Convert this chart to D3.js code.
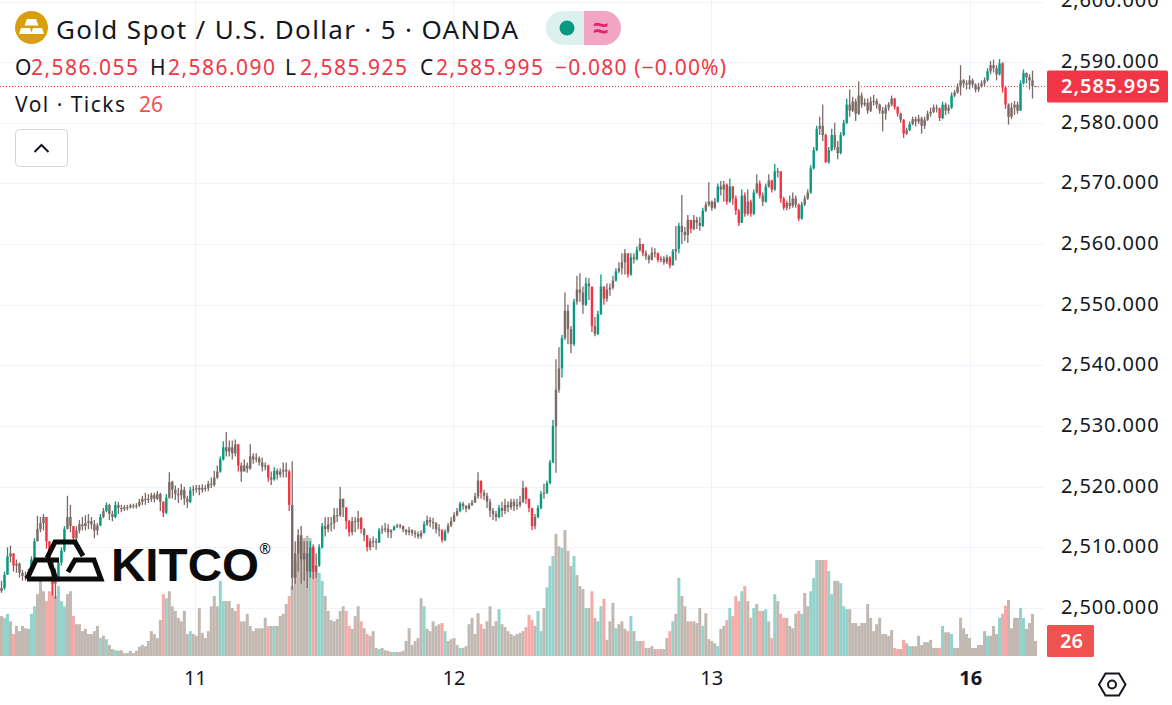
<!DOCTYPE html>
<html>
<head>
<meta charset="utf-8">
<script src="https://cdn.jsdelivr.net/npm/d3@7"></script>
<style>
  html, body { margin: 0; background: #fff; overflow: hidden; }
  svg { display: block; font-family: "Noto Sans", sans-serif; }
  .tick text { fill: #131722; }
</style>
</head>
<body>
<div id="chart"></div>
<script>
var closes = [
  2503.3,2505.5,2508.5,2509,2507,2507.3,2505.8,2505.3,2505.2,2506,
  2508,2511,2513,2514,2515,2511,2508,2504,2505,2507.5,
  2509.5,2513,2515,2513.5,2511.5,2512.8,2513.8,2513.5,2514,2514.3,
  2513.8,2512.8,2513.6,2515,2516,2517,2515.5,2515,2517,2516.5,
  2516.3,2516.6,2516.6,2516.9,2516.8,2516.9,2517.5,2518,2517.8,2518,
  2518.6,2518,2518.8,2517.5,2515.7,2518.2,2520.8,2519.5,2518.8,2518.6,
  2519.5,2518,2517.5,2519.4,2519.6,2519.8,2519.5,2519.8,2519.8,2520.5,
  2520.3,2521.5,2522.5,2524.5,2526.5,2525.8,2526.5,2525.5,2527,2523.5,
  2522.5,2523.5,2523,2525,2524.5,2524.7,2524,2523.3,2523.5,2521.5,
  2521.2,2522.6,2522,2522.5,2522.8,2522.5,2517,2505,2509,2512,
  2508,2509,2506,2510,2506,2507,2510,2513.5,2513,2513.8,
  2514,2515.3,2515.3,2518,2516.6,2514.3,2512.5,2514.3,2514.2,2514.8,
  2513,2512,2510,2511,2511,2510.8,2512.8,2513,2513.1,2512.5,
  2512.8,2513.4,2513.6,2513.5,2512.9,2512.5,2512.8,2512.4,2512.2,2511.8,
  2512.4,2513.8,2514.5,2514.2,2514,2513,2512.8,2511.2,2512.6,2513.6,
  2514.3,2515.3,2516,2517.2,2516.8,2516.4,2517,2517.4,2518.4,2521,
  2519,2518.5,2517.5,2516,2515.5,2515,2516.5,2516,2517,2516.6,
  2517.5,2516.8,2517,2517.5,2519.8,2518,2516.5,2513.5,2515,2516.5,
  2518.8,2519,2520.6,2524,2530,2536,2539.5,2544.5,2549,2546,
  2543.5,2550.5,2552.5,2552,2550,2553.5,2553,2546.5,2545.2,2548.5,
  2553,2551,2552.5,2552.8,2554,2555.5,2556,2557,2558.5,2555,
  2557.8,2557.5,2559,2560,2558.5,2558,2557.4,2558.6,2558.5,2557.4,
  2557.6,2557,2557.8,2556.5,2558.8,2559.2,2563,2562,2561.5,2564,
  2562.5,2564,2563.5,2563,2565.5,2566.5,2567,2566,2567,2569.5,
  2569,2569.8,2567,2569.5,2567.5,2565.5,2563.5,2568,2565,2567,
  2565,2568.5,2570,2568,2567,2569.5,2570.5,2569,2572,2572,
  2567.5,2566,2566.8,2566.3,2567.5,2566.5,2564.2,2566.5,2567.5,2568.5,
  2572.5,2575.5,2579,2579.5,2578,2573.5,2575.5,2578,2576,2575,
  2578,2580,2583,2582,2583.5,2581.5,2584.5,2583,2583.3,2582,
  2583.5,2583.6,2583,2582,2581.5,2582.5,2583,2584,2582.6,2581.5,
  2580.5,2578.2,2578.8,2579.8,2580.6,2580.2,2580.7,2579.5,2580.5,2581.5,
  2581.8,2582.5,2582.4,2580.8,2583,2582,2582.5,2584.5,2585,2586,
  2587,2586.5,2586.3,2587,2586.3,2585.5,2586,2586.5,2587,2588.5,
  2589.5,2589,2588,2589.8,2585.8,2583,2581,2582.5,2583,2582,
  2586.5,2588.2,2587.5,2587,2586.055,2585.995
];
var highs = [
  2504.5,2506,2510,2510.3,2509,2508,2507.5,2506.3,2506,2506.5,
  2508.5,2511.5,2515.2,2515,2515.5,2515,2511,2508,2506.5,2508,
  2510,2513.5,2518.5,2517,2513.5,2513.5,2514.5,2515,2515.3,2515.5,
  2515,2514.5,2514,2515.5,2516.5,2517.4,2517.2,2516,2517.6,2517.5,
  2517,2517,2517,2517.2,2517.2,2517.3,2518,2518.5,2519,2518.8,
  2519,2519,2519.3,2519,2517.6,2518.8,2522.4,2521,2520.2,2519.8,
  2520.5,2520,2518.5,2520,2520.2,2520.3,2520.3,2520.4,2520.3,2521,
  2521.5,2522.6,2523.5,2525,2527.5,2529,2527.6,2527.6,2527.8,2527,
  2524,2524.5,2524,2527,2525.5,2525.5,2525,2524.8,2524,2523.6,
  2522.5,2523.2,2523,2523,2524,2524,2522.8,2524.2,2511,2513,
  2513.5,2511,2511,2511,2510.5,2509,2510.5,2514,2515,2515,
  2515,2516.5,2516.5,2520,2518,2516.6,2514.5,2515,2515,2516,
  2515,2513.2,2512,2511.5,2511.8,2511.5,2513.2,2513.6,2514,2513.8,
  2513,2513.6,2513.9,2513.9,2513.6,2513,2513.4,2513,2512.8,2512.6,
  2512.8,2514.3,2515.2,2515,2514.9,2514.2,2513.8,2513,2513,2514,
  2515,2515.8,2516.5,2517.5,2517.5,2517,2517.3,2517.8,2519,2522.4,
  2521,2519.5,2519,2518,2516.5,2516,2517,2517.5,2518,2517.6,
  2518,2518,2518,2518.5,2521,2520,2518,2516.5,2515.5,2517,
  2519.3,2520.5,2521,2524.4,2531,2541,2543,2545,2552,2550,
  2546.5,2551,2554.8,2555.2,2553,2554.5,2554.4,2551.5,2548,2549,
  2555,2553,2553.5,2553.5,2554.8,2556,2557,2558.5,2559.2,2558.3,
  2558.5,2558.5,2559.6,2561,2560,2559,2558.3,2559.5,2559.3,2558.6,
  2558,2558,2558.2,2558,2559.2,2563,2563.5,2568.1,2562.8,2564.8,
  2563.3,2564.8,2564.5,2564.5,2566,2567,2570.2,2567.2,2567.6,2570,
  2570.4,2570.4,2570,2570.8,2569.6,2568,2565.8,2569,2568.5,2569,
  2567.3,2569,2571.5,2570.5,2568.5,2570,2571.5,2570.6,2573.2,2572.6,
  2572,2567.8,2567.2,2568,2568.5,2568,2566.7,2567,2568,2569,
  2573,2576,2579.5,2581,2583,2578.2,2576,2579,2580,2577,
  2578.5,2580.5,2584,2585.5,2584.3,2584,2586.8,2585,2584,2584,
  2584.3,2584.6,2584,2583.2,2582.6,2583,2583.4,2584.5,2584.1,2582.7,
  2581.7,2580.6,2579.2,2580.2,2581,2581,2581.3,2581,2581,2582,
  2582.5,2583,2583,2582.5,2583.5,2583.3,2583,2585,2585.4,2586.5,
  2589.5,2587.2,2587,2587.8,2587.3,2586.5,2586.6,2587,2587.5,2589,
  2590.2,2590.4,2589.5,2590.5,2590,2586,2583.2,2583.3,2583.6,2583.5,
  2587,2588.8,2588.3,2588,2588.6,2586.09
];
var lows = [
  2502.5,2503,2505.5,2507.5,2506,2505.8,2505,2504.5,2504.5,2505,
  2505.8,2508,2511,2512.5,2512.8,2509.8,2506.5,2502,2501.5,2504.8,
  2507,2509.2,2513,2512.5,2510.5,2510.8,2512.3,2512.8,2512.8,2513,
  2513,2511.5,2512,2513.5,2514.8,2515.8,2514.5,2514.3,2514.8,2515.5,
  2515.8,2516,2516.1,2516.4,2516.4,2516.4,2516.7,2517,2517,2517.3,
  2517.5,2517.4,2517.8,2516,2515,2515.5,2518,2518,2517.8,2517.3,
  2517.8,2517,2516.5,2517.3,2518.5,2519,2518.6,2519,2519.2,2519.3,
  2519.8,2520,2521.3,2522.3,2524.3,2525,2525,2524.5,2525,2522.5,
  2520.8,2522.5,2522.3,2522.8,2523.8,2524,2523.5,2522.5,2522.7,2520.8,
  2520.3,2521,2521.2,2521.5,2521.5,2521.5,2516,2503,2504,2506,
  2504,2504.5,2503.3,2505,2504.8,2505,2506.8,2509.8,2511.8,2512.5,
  2512.6,2513,2514.2,2515,2515,2513,2511.8,2512,2512.5,2513,
  2512.3,2511,2509.3,2509.5,2510,2509.6,2510.7,2512.2,2512.5,2511.6,
  2511.5,2512.8,2513.2,2513.1,2512.5,2512,2512,2511.9,2511.6,2511.4,
  2511.4,2512.3,2513.5,2513.3,2513,2512.3,2511.8,2510.8,2511,2512.3,
  2513.3,2514.2,2515.1,2515.8,2516.2,2515.8,2516.2,2516.8,2517.3,2518,
  2518,2517.8,2516.5,2515,2514.5,2514.3,2514.8,2515,2515.5,2515.8,
  2516.2,2516,2516.2,2516.6,2517.3,2517.2,2515.8,2512.8,2513,2514.8,
  2516.3,2518,2518.8,2520.4,2523.9,2522.3,2535.5,2538,2544.2,2543.5,
  2542,2543.2,2550,2550.5,2548.5,2549.8,2550.8,2545.5,2544.8,2545,
  2548.3,2550,2550.5,2551.5,2552.5,2553.8,2555.2,2555,2555,2554.5,
  2554.8,2556.8,2557.3,2558.8,2558,2557.4,2556.8,2557.3,2557.8,2557,
  2557,2556.6,2556.7,2556,2556.5,2557.3,2558.5,2560,2560.5,2560.2,
  2561.8,2562.3,2562.5,2562.2,2562.8,2565.3,2566.2,2565.5,2565.8,2566.8,
  2568,2567,2566.5,2566.8,2566.5,2564.8,2563,2563.5,2564.5,2564.7,
  2564.5,2564.8,2568.3,2567.5,2566.3,2566.8,2569.3,2568.5,2568.8,2571,
  2566.8,2565.6,2565.6,2565.8,2566,2566,2563.8,2564,2566.3,2567.3,
  2568.3,2572.3,2575.3,2578,2577,2573.4,2573.3,2575.3,2575.5,2574,
  2574.8,2577.8,2579.8,2581,2581.8,2580.3,2581.3,2582.5,2582.7,2581.5,
  2581.8,2582.8,2582.3,2581.5,2578.6,2580.5,2582,2582.7,2582.2,2581,
  2580,2577.5,2578,2578.6,2579.6,2579.4,2579.8,2578.2,2579,2580.3,
  2581,2581.6,2581.7,2580.3,2580.6,2581.3,2581.5,2582.3,2584.2,2584.8,
  2584.5,2585.8,2585.5,2585.5,2585.8,2585,2585.1,2585.8,2586,2586.8,
  2588,2588.3,2587,2587.8,2585,2582.3,2579.7,2580.6,2581.3,2581.5,
  2582,2586.3,2586.5,2585.5,2584,2585.925
];
var volumes = [
  69,66,73,60,38,52,43,52,48,47,
  73,86,107,135,112,95,112,130,104,121,
  95,86,107,112,69,55,55,43,47,38,
  38,43,52,31,35,29,19,12,10,9,
  10,5,5,9,5,9,16,19,17,26,
  43,38,31,62,107,100,112,86,78,66,
  60,78,38,43,38,35,83,40,31,43,
  86,104,86,130,95,95,95,83,78,90,
  60,60,73,52,43,48,48,48,66,52,
  52,52,52,69,73,90,104,121,164,198,
  199,204,208,204,190,147,144,130,104,78,
  62,60,64,78,86,78,52,47,69,86,
  60,48,38,35,43,14,12,14,10,9,
  7,7,7,7,9,26,48,19,26,31,
  100,86,47,43,60,52,55,57,43,26,
  29,31,19,14,14,17,55,66,38,74,
  55,47,60,86,52,60,81,55,50,43,
  38,35,38,40,43,50,71,62,52,78,
  43,83,119,156,173,211,190,187,218,182,
  156,173,140,121,116,83,83,112,66,60,
  86,99,28,60,92,48,55,60,47,43,
  69,43,26,26,26,14,14,17,12,12,
  12,12,31,43,60,73,135,104,86,60,
  60,60,57,83,52,74,29,26,22,17,
  47,52,62,83,69,104,95,112,121,95,
  66,83,90,78,78,81,60,31,107,95,
  73,66,66,52,48,73,78,73,109,86,
  112,135,166,166,166,166,147,107,130,130,
  126,86,81,81,57,57,52,57,57,90,
  66,43,55,66,38,38,35,45,14,12,
  12,28,22,17,17,17,35,19,24,24,
  28,14,14,14,52,41,41,38,14,14,
  66,48,38,31,14,14,19,19,43,35,
  35,52,38,66,73,87,97,48,66,66,
  83,66,47,57,73,26
];
var priceTicks = [2600,2590,2580,2570,2560,2550,2540,2530,2520,2510,2500];
var dayLabels = ["11","12","13","16"];
var dayTicks = [64.5,150.8,236.8,323.2];   // bar position of each session start
var lastOHLC = ["2,586.055","2,586.090","2,585.925","2,585.995"];
var lastChange = "\u22120.080 (\u22120.00%)";
var lastVolume = 26;

var width = 1172, height = 705;
var plotRight = 1036, paneBottom = 656;
var UP = "#089981", DOWN = "#f23645", MIXED = "#7d6a66";
var VOL_UP = "#92d3cc", VOL_DOWN = "#f7a9a7", VOL_MIXED = "#c2b8b2";

var svg = d3.select("#chart").append("svg")
  .attr("width", width).attr("height", height);

// the original is a soft screenshot, a touch of blur gets the marks closer to it
var defs = svg.append("defs");
defs.append("filter").attr("id", "softCandle").append("feGaussianBlur").attr("stdDeviation", 0.35);
defs.append("filter").attr("id", "softVolume").append("feGaussianBlur").attr("stdDeviation", 0.45);

var x = d3.scaleLinear().domain([0, closes.length - 1]).range([1.5, plotRight - 0.5]);
var y = d3.scaleLinear().domain([2500, 2600]).range([608, 1.5]);
var yVol = d3.scaleLinear().domain([0, 218]).range([paneBottom, 530]);

// joins the close of the previous sample to this one, so open is just the last close
var bars = closes.map(function(c, i) {
  var o = i ? closes[i - 1] : c - 0.5;
  var range = highs[i] - lows[i];
  var kind = range > 1.6 * Math.abs(c - o) ? "mixed" : (c >= o ? "up" : "down");
  return { i: i, o: o, h: highs[i], l: lows[i], c: c, v: volumes[i], kind: kind };
});
var candleColor = { up: UP, down: DOWN, mixed: MIXED };
var volColor = { up: VOL_UP, down: VOL_DOWN, mixed: VOL_MIXED };

// grid
svg.append("g").selectAll("line.h").data(priceTicks).enter().append("line")
  .attr("x1", 0).attr("x2", plotRight + 8)
  .attr("y1", function(d) { return Math.round(y(d)) + 0.5; })
  .attr("y2", function(d) { return Math.round(y(d)) + 0.5; })
  .attr("stroke", "#f0f3fa");
svg.append("g").selectAll("line.v").data(dayTicks).enter().append("line")
  .attr("y1", 0).attr("y2", paneBottom)
  .attr("x1", function(d) { return Math.round(x(d)) + 0.5; })
  .attr("x2", function(d) { return Math.round(x(d)) + 0.5; })
  .attr("stroke", "#f0f3fa");

// volume
svg.append("g").attr("filter", "url(#softVolume)")
  .selectAll("rect").data(bars).enter().append("rect")
  .attr("x", function(d) { return x(d.i) - 1.5; })
  .attr("width", 3)
  .attr("y", function(d) { return yVol(d.v); })
  .attr("height", function(d) { return paneBottom - yVol(d.v); })
  .attr("fill", function(d) { return volColor[d.kind]; });

// last price line
svg.append("line")
  .attr("x1", 0).attr("x2", 1046)
  .attr("y1", y(2585.995)).attr("y2", y(2585.995))
  .attr("stroke", DOWN).attr("stroke-width", 1).attr("stroke-dasharray", "1 2");

// candles
var candle = svg.append("g").attr("filter", "url(#softCandle)")
  .selectAll("g").data(bars).enter().append("g");
candle.append("line")
  .attr("x1", function(d) { return x(d.i); })
  .attr("x2", function(d) { return x(d.i); })
  .attr("y1", function(d) { return y(d.h); })
  .attr("y2", function(d) { return y(d.l); })
  .attr("stroke-width", 1.3)
  .attr("stroke", function(d) { return candleColor[d.kind]; });
candle.append("rect")
  .attr("x", function(d) { return x(d.i) - 1.2; })
  .attr("width", 2.4)
  .attr("y", function(d) { return y(Math.max(d.o, d.c)); })
  .attr("height", function(d) { return Math.max(1, Math.abs(y(d.o) - y(d.c))); })
  .attr("fill", function(d) { return candleColor[d.kind]; });

// axes
var priceAxis = d3.axisRight(y)
  .tickValues(priceTicks)
  .tickSize(0).tickPadding(0)
  .tickFormat(d3.format(",.3f"));
var gy = svg.append("g").attr("transform", "translate(1061,-1)").call(priceAxis);
gy.select(".domain").remove();
gy.selectAll("text").attr("font-size", 20).attr("letter-spacing", "0.85px")
  .attr("font-family", '"Noto Sans", sans-serif');

var dayAxis = d3.axisBottom(x)
  .tickValues(dayTicks)
  .tickSize(0).tickPadding(0)
  .tickFormat(function(d, i) { return dayLabels[i]; });
var gx = svg.append("g").attr("transform", "translate(0,671)").call(dayAxis);
gx.select(".domain").remove();
gx.selectAll("text").attr("font-size", 20)
  .attr("font-family", '"Noto Sans", sans-serif')
  .attr("font-weight", function(d, i) { return dayLabels[i] === "16" ? 700 : 400; });

// last value tags
svg.append("rect").attr("x", 1047).attr("y", y(2585.995) - 16).attr("width", 121).attr("height", 32)
  .attr("rx", 1.5).attr("fill", DOWN);
svg.append("text").attr("x", 1061).attr("y", y(2585.995) + 7)
  .attr("font-size", 20).attr("font-weight", 600).attr("letter-spacing", "1px").attr("fill", "#fff")
  .text(lastOHLC[3]);
svg.append("rect").attr("x", 1047).attr("y", 625).attr("width", 47).attr("height", 32)
  .attr("rx", 1.5).attr("fill", "#ef5350");
svg.append("text").attr("x", 1060).attr("y", 648)
  .attr("font-size", 20).attr("font-weight", 600).attr("fill", "#fff").text(lastVolume);

// settings hexagon
svg.append("path").attr("d", "M1099,684.5 L1105.5,673.5 L1119,673.5 L1125.5,684.5 L1119,695.5 L1105.5,695.5 Z")
  .attr("fill", "none").attr("stroke", "#131722").attr("stroke-width", 2);
svg.append("circle").attr("cx", 1112).attr("cy", 684.5).attr("r", 4)
  .attr("fill", "none").attr("stroke", "#131722").attr("stroke-width", 2);

// legend: symbol icon
svg.append("circle").attr("cx", 31.5).attr("cy", 27.5).attr("r", 16.5).attr("fill", "#d99e0b");
svg.append("path").attr("d", "M27,19 L36,19 L38.5,25.5 L24.5,25.5 Z M21,28 L30,28 L32,34 L19,34 Z M33,28 L42,28 L44,34 L31,34 Z")
  .attr("fill", "#fff");

svg.append("text").attr("x", 56).attr("y", 39).attr("font-size", 26).attr("fill", "#131722")
  .attr("textLength", 462).attr("lengthAdjust", "spacing")
  .text("Gold Spot / U.S. Dollar \u00b7 5 \u00b7 OANDA");

// market status pill
svg.append("path").attr("d", "M584,11 L563,11 A17,17 0 0 0 563,45 L584,45 Z").attr("fill", "#dcf1ee");
svg.append("path").attr("d", "M584,11 L604,11 A17,17 0 0 1 604,45 L584,45 Z").attr("fill", "#f2a6c4");
svg.append("circle").attr("cx", 567).attr("cy", 28).attr("r", 7.5).attr("fill", UP);
svg.append("text").attr("x", 601).attr("y", 37).attr("text-anchor", "middle")
  .attr("font-size", 27).attr("font-weight", 600).attr("fill", "#e0246f").text("\u2248");

// OHLC row
var ohlcLetters = ["O", "H", "L", "C"];
var letterX = [15, 150, 285, 420], valueX = [31, 168, 300, 436];
ohlcLetters.forEach(function(l, i) {
  svg.append("text").attr("x", letterX[i]).attr("y", 75).attr("font-size", 21).attr("fill", "#131722").text(l);
  svg.append("text").attr("x", valueX[i]).attr("y", 75).attr("font-size", 21).attr("fill", DOWN)
    .attr("textLength", 107).text(lastOHLC[i]);
});
svg.append("text").attr("x", 555).attr("y", 75).attr("font-size", 21).attr("fill", DOWN)
  .attr("textLength", 171).text(lastChange);

// volume legend
svg.append("text").attr("x", 15).attr("y", 112).attr("font-size", 21).attr("fill", "#131722")
  .attr("textLength", 110).text("Vol \u00b7 Ticks");
svg.append("text").attr("x", 139).attr("y", 112).attr("font-size", 21).attr("fill", "#ef5350").text(lastVolume);

// collapse button
svg.append("rect").attr("x", 15.5).attr("y", 129.5).attr("width", 52).attr("height", 37).attr("rx", 4)
  .attr("fill", "#fff").attr("stroke", "#d1d4dc");
svg.append("path").attr("d", "M34.5,152 L41.5,145 L48.5,152").attr("fill", "none")
  .attr("stroke", "#131722").attr("stroke-width", 2);

// kitco watermark
var logo = svg.append("g").attr("fill", "none").attr("stroke", "#0b0b0b").attr("stroke-width", 5)
  .attr("stroke-linejoin", "miter");
logo.append("path").attr("d", "M47,558 L55,542 L75,542 L83,556");
logo.append("path").attr("d", "M27,579 L36,560 L59,560 M27,579 L56,579 L49,560");
logo.append("path").attr("d", "M68,572 L75,560 L94,560 L101,579 L58,579");
svg.append("text").attr("x", 111).attr("y", 581).attr("font-family", '"Liberation Sans", sans-serif')
  .attr("font-weight", 700).attr("font-size", 46).attr("fill", "#0b0b0b")
  .attr("textLength", 148).attr("lengthAdjust", "spacingAndGlyphs").text("KITCO");
svg.append("text").attr("x", 265).attr("y", 554).attr("text-anchor", "middle")
  .attr("font-size", 14).attr("fill", "#0b0b0b").text("\u00ae");
</script>
</body>
</html>
